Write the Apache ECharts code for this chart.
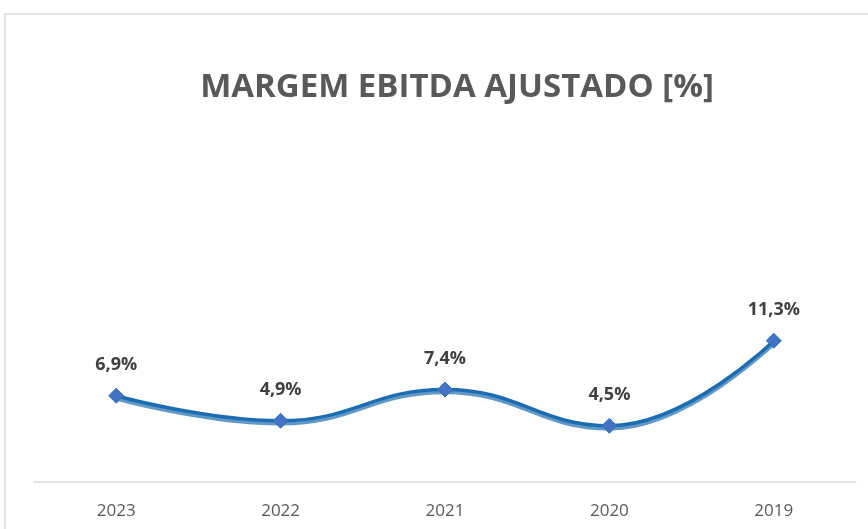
<!DOCTYPE html>
<html>
<head>
<meta charset="utf-8">
<script src="https://cdn.jsdelivr.net/npm/echarts@6/dist/echarts.min.js"></script>
<style>
  html, body { margin: 0; padding: 0; background: #fff; }
  #chartBox { width: 868px; height: 529px; }
</style>
</head>
<body>
<div id="chartBox"></div>
<script>
// margem ebitda ajustado por ano
var anos = ['2023', '2022', '2021', '2020', '2019'];
var margem = [6.9, 4.9, 7.4, 4.5, 11.3];

function fmtPct(v) {
    return v.toFixed(1).replace('.', ',') + '%';
}

var myChart = echarts.init(document.getElementById('chartBox'));

var option = {
    backgroundColor: '#fff',
    animation: false,
    title: {
        text: 'MARGEM EBITDA AJUSTADO [%]',
        left: 452,
        top: 66,
        textAlign: 'center',
        textStyle: {
            fontFamily: 'Open Sans',
            fontSize: 33,
            fontWeight: 'bold',
            color: '#595959'
        }
    },
    graphic: [{
        type: 'rect',
        shape: { x: 5, y: 14, width: 900, height: 600 },
        style: { fill: 'none', stroke: '#d9d9d9', lineWidth: 1.5 },
        silent: true
    }],
    grid: {
        left: 34,
        right: 12,
        top: 107,
        bottom: 47
    },
    xAxis: {
        type: 'category',
        data: anos,
        boundaryGap: true,
        axisLine: {
            lineStyle: { color: '#d9d9d9', width: 1.5 }
        },
        axisTick: { show: false },
        axisLabel: {
            color: '#595959',
            fontFamily: 'Open Sans',
            fontSize: 17,
            margin: 21
        }
    },
    yAxis: {
        type: 'value',
        min: 0,
        max: 30,
        show: false,
        splitLine: { show: false }
    },
    series: [
        {
            type: 'line',
            data: margem,
            smooth: 0.45,
            symbol: 'diamond',
            symbolSize: 15,
            lineStyle: {
                color: '#1b6cb0',
                width: 3.5,
                shadowColor: 'rgba(46,117,182,0.75)',
                shadowOffsetY: 3,
                shadowBlur: 0
            },
            itemStyle: {
                color: '#4472c4',
                borderColor: '#2e75b6',
                borderWidth: 1
            },
            label: {
                show: true,
                position: 'top',
                distance: 14,
                color: '#404040',
                fontFamily: 'Open Sans',
                fontSize: 18,
                fontWeight: 'bold',
                formatter: function (p) { return fmtPct(p.value); }
            }
        }
    ]
};

myChart.setOption(option);
</script>
</body>
</html>
